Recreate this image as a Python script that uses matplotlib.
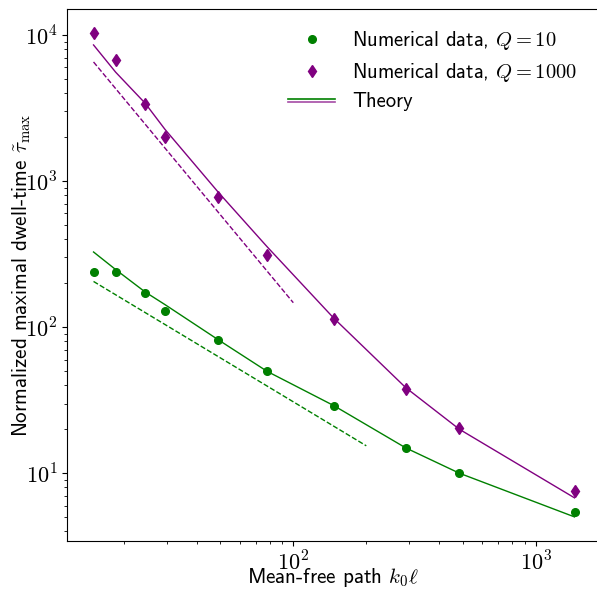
import matplotlib
matplotlib.use('Agg')
import numpy as np
import matplotlib.pyplot as plt
from matplotlib.lines import Line2D
from matplotlib.legend_handler import HandlerBase
from matplotlib.ticker import FuncFormatter

plt.rcParams['mathtext.fontset'] = 'cm'
plt.rcParams['font.family'] = ['cmss10', 'DejaVu Sans']
plt.rcParams['axes.formatter.use_mathtext'] = True
plt.rcParams['axes.unicode_minus'] = False

# mean-free path k0*l
kl = [15, 18.5, 24.5, 29.5, 49, 78, 147, 291, 484, 1445]

# numerical data
tau_q10 = [240, 240, 172, 129, 82, 49.8, 28.8, 14.9, 10.1, 5.43]
tau_q1000 = [10270, 6710, 3390, 2005, 783, 313, 113.6, 37.9, 20.4, 7.52]

# theory curves (read at the same k0*l)
theory_q10 = [327, 248, 174, 143, 82, 49.8, 29, 14.9, 10.0, 5.02]
theory_q1000 = [8550, 5570, 3410, 2270, 840, 355, 115, 38.5, 20.0, 6.78]

# asymptotic power laws (dashed)
asym_q10_x = [15, 200]
asym_q10_y = [205.5, 15.4]
asym_q1000_x = [15, 100]
asym_q1000_y = [6540, 147]

green = 'green'
purple = 'purple'


class DoubleLine(HandlerBase):
    # two thin lines stacked, green over purple
    def create_artists(self, legend, orig_handle, xdescent, ydescent,
                       width, height, fontsize, trans):
        y0 = height / 2 - ydescent
        l1 = Line2D([-xdescent, width - xdescent], [y0 + 1.0, y0 + 1.0],
                    color=green, lw=1.2, transform=trans)
        l2 = Line2D([-xdescent, width - xdescent], [y0 - 1.0, y0 - 1.0],
                    color=purple, lw=1.2, alpha=0.7, transform=trans)
        return [l1, l2]


def pow10(v, pos):
    e = int(round(np.log10(v)))
    return r'$10^{%d}$' % e


fig = plt.figure(figsize=(5.97, 5.89), dpi=100)
ax = fig.add_axes([0.1127, 0.0820, 0.8890, 0.9027])

ax.plot(kl, theory_q10, '-', color=green, lw=1)
ax.plot(kl, theory_q1000, '-', color=purple, lw=1)
ax.plot(asym_q10_x, asym_q10_y, '--', color=green, lw=1)
ax.plot(asym_q1000_x, asym_q1000_y, '--', color=purple, lw=1)
p1, = ax.plot(kl, tau_q10, 'o', color=green, ms=5.5, ls='none')
p2, = ax.plot(kl, tau_q1000, 'd', color=purple, ms=6.5, ls='none')

ax.set_xscale('log')
ax.set_yscale('log')
ax.set_xlim(11.69, 1806)
ax.set_ylim(3.45, 15070)
ax.xaxis.set_major_formatter(FuncFormatter(pow10))
ax.yaxis.set_major_formatter(FuncFormatter(pow10))

ax.tick_params(labelsize=16)
ax.set_xlabel(r'Mean-free path $k_0\ell$', fontsize=15.2, va='center')
ax.set_ylabel(r'Normalized maximal dwell-time $\tilde{\tau}_\mathrm{max}$',
              fontsize=15.2, va='center')
ax.xaxis.set_label_coords(0.5, -0.069)
ax.yaxis.set_label_coords(-0.085, 0.5)

theory_handle = object()
ax.legend([p1, p2, theory_handle],
          [r'Numerical data, $Q=10$', r'Numerical data, $Q=1000$', 'Theory'],
          handler_map={theory_handle: DoubleLine()},
          loc='upper left', bbox_to_anchor=(0.416, 0.962),
          frameon=False, fontsize=14.8, borderpad=0, borderaxespad=0,
          handlelength=2.3, handletextpad=0.8, labelspacing=0.42)

fig.savefig('out.png', dpi=100)
